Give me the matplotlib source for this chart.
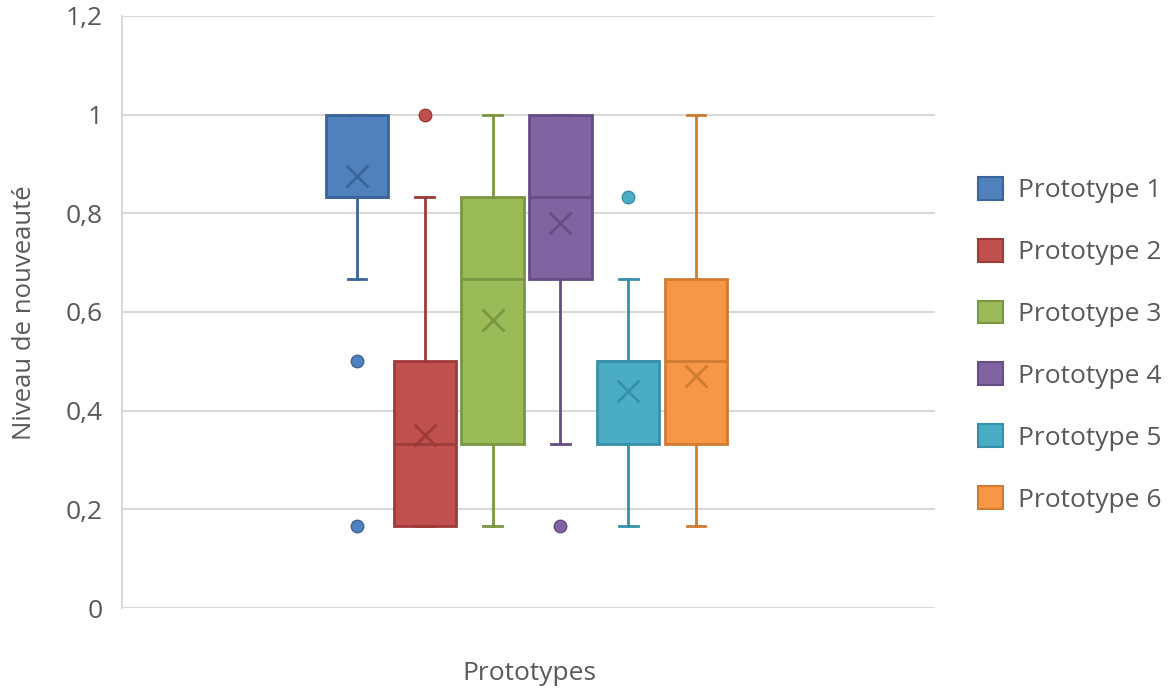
import matplotlib
matplotlib.use("Agg")
import matplotlib.pyplot as plt
from matplotlib.patches import Patch
from matplotlib.ticker import FuncFormatter

# ---- data ----
labels = ["Prototype 1", "Prototype 2", "Prototype 3", "Prototype 4", "Prototype 5", "Prototype 6"]
q1 = [0.833, 0.167, 0.333, 0.667, 0.333, 0.333]
med = [0.833, 0.333, 0.667, 0.833, 0.5, 0.5]
q3 = [1.0, 0.5, 0.833, 1.0, 0.5, 0.667]
whislo = [0.667, 0.167, 0.167, 0.333, 0.167, 0.167]
whishi = [1.0, 0.833, 1.0, 1.0, 0.667, 1.0]
means = [0.875, 0.35, 0.583, 0.78, 0.44, 0.47]
fliers = [[0.5, 0.167], [1.0], [], [0.167], [0.833], []]
yticks = [0, 0.2, 0.4, 0.6, 0.8, 1.0, 1.2]

fills = ["#4F81BD", "#C0504D", "#9BBB59", "#8064A2", "#4BACC6", "#F79646"]
edges = ["#3A649A", "#9E3B38", "#7A9642", "#644E84", "#3790A8", "#D07A32"]

FONT = "Open Sans"
TXT = "#595959"

fig = plt.figure(figsize=(11.76, 6.89), dpi=100)
ax = fig.add_axes([122/1176, (689-608)/689, (935-122)/1176, (608-16)/689])

for i in range(len(labels)):
    st = dict(q1=q1[i], med=med[i], q3=q3[i], whislo=whislo[i], whishi=whishi[i],
              mean=means[i], fliers=fliers[i], label=labels[i])
    ax.bxp([st], positions=[i + 1], widths=0.92, capwidths=0.28, patch_artist=True,
           showmeans=True, showcaps=True, showfliers=True,
           boxprops=dict(facecolor=fills[i], edgecolor=edges[i], linewidth=2),
           medianprops=dict(color=edges[i], linewidth=2),
           whiskerprops=dict(color=edges[i], linewidth=2),
           capprops=dict(color=edges[i], linewidth=2),
           meanprops=dict(marker="x", markeredgecolor=edges[i], markersize=16, markeredgewidth=2),
           flierprops=dict(marker="o", markerfacecolor=fills[i], markeredgecolor=edges[i],
                           markersize=9, markeredgewidth=1),
           zorder=3)

ax.set_xlim(-2.466, 9.525)
ax.set_ylim(0, 1.2)
ax.set_yticks(yticks)
ax.yaxis.set_major_formatter(FuncFormatter(lambda v, p: ("%g" % round(v, 1)).replace(".", ",")))
ax.set_xticks([])
ax.grid(axis="y", color="#D9D9D9", linewidth=1.5, zorder=0)
ax.set_axisbelow(True)
for s in ["top", "right", "bottom"]:
    ax.spines[s].set_visible(False)
ax.spines["left"].set_color("#D9D9D9")
ax.spines["left"].set_linewidth(1.5)
ax.tick_params(axis="y", length=0, pad=14, labelsize=19, labelcolor=TXT)
for t in ax.get_yticklabels():
    t.set_fontfamily(FONT)

ax.set_ylabel("Niveau de nouveauté", fontsize=18.5, color=TXT, fontfamily=FONT)
ax.yaxis.set_label_coords((37 - 122) / 813, (608 - 313) / 592)
fig.text(529/1176, 1 - 673/689, "Prototypes", ha="center", va="center", fontsize=19,
         color=TXT, fontfamily=FONT)

handles = [Patch(facecolor=fills[i], edgecolor=edges[i], linewidth=1.5) for i in range(len(labels))]
leg = fig.legend(handles, labels, loc="upper left", bbox_to_anchor=(978/1176, 1 - 177/689),
                 frameon=False, prop={"family": FONT, "size": 19},
                 handlelength=0.95, handleheight=0.95, labelspacing=1.34, handletextpad=0.55,
                 borderaxespad=0, borderpad=0)
for t in leg.get_texts():
    t.set_color(TXT)

fig.savefig("out.png", dpi=100)
